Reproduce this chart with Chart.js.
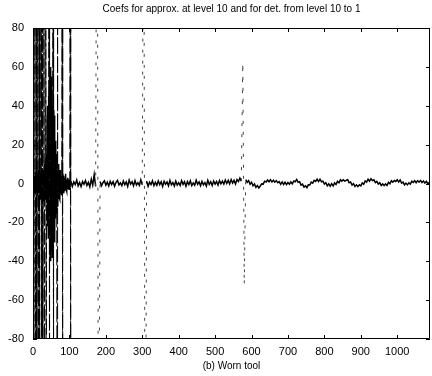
<!DOCTYPE html>
<html>
<head>
<meta charset="utf-8">
<script src="https://cdn.jsdelivr.net/npm/chart.js@4.4.1/dist/chart.umd.min.js"></script>
<style>
html,body{margin:0;padding:0;background:#fff;}
#wrap{width:432px;height:376px;}
</style>
</head>
<body>
<div id="wrap"><canvas id="c" width="432" height="376"></canvas></div>
<script>
// ---- data ----
const titleText = "Coefs for approx. at level 10 and for det. from level 10 to 1";
const xLabelText = "(b) Worn tool";
const yTickValues = [-80, -60, -40, -20, 0, 20, 40, 60, 80];
const xTickValues = [0, 100, 200, 300, 400, 500, 600, 700, 800, 900, 1000];
const xMax = 1090;

// coefficients at index 0..103 (one per index)
const earlyCoefs = [
  3, 260, -240, 4, -5, 230, -210, 6, -4, 200,
  -230, 5, -6, 210, -180, 7, -5, 190, -170, 6,
  -8, 5, 170, -160, 8, -6, 150, -140, 7, -9,
  140, -130, 10, -8, 12, 130, -120, 15, -10, 35,
  -22, 40, -28, 45, 150, -130, 58, -38, 60, -40,
  55, -35, 42, -38, 40, 130, -120, 38, -30, 35,
  -25, 22, -18, 20, -15, 15, -125, 110, -12, 10,
  -8, 9, -7, 6, -8, 7, -5, 4, -6, 4,
  110, -110, 5, -3, 4, -5, 3, -4, 3, -2,
  5, -3, 2, -4, 2, -3, 3, -2, 2, -3,
  2, -2, 120, -100
];
// coefficients from index 104 onward, read every 4 indices
const tailStart = 104, tailStep = 4;
const tailCoefs = [
  1.2, -1.5, 0.8, -0.6, 1.8, -1.2, 0.5, -1.6, 1.0, -0.4,
  1.5, -1.0, 0.6, -1.8, 2.2, -0.8, 4.5, -1.5, 250, -220,
  1.0, -1.2, 0.4, 1.4, -0.9, 0.7, -1.3, 1.1, -0.5, 0.9,
  -1.4, 0.6, 1.6, -0.7, 0.3, -1.1, 1.3, -0.6, 0.8, -1.5,
  1.7, -0.3, 0.9, -1.2, 1.5, -0.8, 0.4, -1.0, 1.9, -0.6,
  200, -210, 1.2, -1.4, 0.7, -0.5, 1.4, -1.1, 0.6, -0.9,
  1.3, -0.6, 0.9, -1.5, 1.1, -0.4, 0.8, -1.2, 1.6, -0.7,
  0.5, -1.3, 1.2, -0.8, 0.4, -1.0, 1.5, -0.5, 0.9, -1.4,
  1.0, -0.6, 1.4, -1.1, 0.3, -0.9, 1.7, -0.4, 0.8, -1.2,
  1.1, -0.7, 0.5, -1.3, 1.6, -0.5, 0.9, -1.0, 1.3, -0.3,
  1.0, -0.8, 1.5, -0.2, 1.2, -0.3, 1.8, 0.0, 1.6, -0.2,
  2.0, 0.2, 1.6, -0.3, 2.0, 1.0, 2.8, 1.2, 62, -52,
  2.0, 0.6, 1.5, -0.4, 0.6, -1.2, -0.2, -2.0, -1.1, -2.3,
  -1.3, -0.2, -0.3, 1.2, 0.8, 1.8, 0.9, 1.9, 0.8, 1.7,
  0.7, 1.5, 0.4, 1.0, -0.4, 0.8, -0.5, 0.7, -0.6, 0.5,
  -0.4, 0.8, -0.2, 1.3, 0.9, 2.1, 0.6, 0.9, -0.8, -0.3,
  -1.8, -1.2, -2.1, -0.7, -0.8, 0.7, 0.2, 1.6, 1.1, 2.2,
  1.0, 2.2, 0.9, 1.2, -0.3, 0.4, -1.2, -0.2, -1.4, -0.1,
  -1.3, 0.3, -0.5, 1.1, 0.4, 1.9, 1.2, 1.9, 1.2, 1.6,
  2.0, 0.4, 0.8, -0.8, -0.1, -1.5, -0.7, -1.6, -0.7, -1.2,
  0.3, -0.4, 1.3, 0.7, 2.2, 1.2, 2.4, 1.5, 1.9, 0.5,
  1.1, -0.3, 0.4, -1.0, -0.2, -1.1, -0.2, -1.0, 0.6, -0.1,
  1.4, 0.7, 1.5, 1.0, 1.9, 0.8, 1.8, 0.2, 0.7, -0.7,
  0.2, -0.7, 0.3, -0.3, 1.2, 0.5, 1.4, 0.4, 1.5, 0.7,
  1.6, 0.5, 1.3, 0.2, 1.1, -0.2, 0.7
];

// ---- build points ----
const points = [];
earlyCoefs.forEach((v, i) => points.push({x: i, y: v}));
tailCoefs.forEach((v, i) => points.push({x: tailStart + i * tailStep, y: v}));

const FONT = "'Liberation Sans', Arial, Helvetica, sans-serif";

const boxPlugin = {
  id: 'boxPlugin',
  afterDraw(chart) {
    const {ctx, chartArea: a, scales: {x, y}} = chart;
    ctx.save();
    ctx.strokeStyle = '#000';
    ctx.lineWidth = 1;
    ctx.beginPath();
    ctx.rect(Math.round(a.left) + 0.5, Math.round(a.top) + 0.5,
             Math.round(a.right - a.left) - 1, Math.round(a.bottom - a.top) - 1);
    ctx.stroke();
    const L = 4;
    ctx.beginPath();
    x.ticks.forEach(t => {
      const px = Math.round(x.getPixelForValue(t.value)) + 0.5;
      ctx.moveTo(px, a.bottom); ctx.lineTo(px, a.bottom - L);
      ctx.moveTo(px, a.top); ctx.lineTo(px, a.top + L);
    });
    y.ticks.forEach(t => {
      const py = Math.round(y.getPixelForValue(t.value)) + 0.5;
      ctx.moveTo(a.left, py); ctx.lineTo(a.left + L, py);
      ctx.moveTo(a.right, py); ctx.lineTo(a.right - L, py);
    });
    ctx.stroke();
    ctx.restore();
  }
};

const spikeMag = c => Math.max(Math.abs(c.p0.parsed.y), Math.abs(c.p1.parsed.y));
const isTailSpike = c => c.p0.parsed.x > 150 && spikeMag(c) > 20;
const isEarlySpike = c => c.p0.parsed.x <= 150 && spikeMag(c) > 80;

new Chart(document.getElementById('c'), {
  type: 'line',
  data: {
    datasets: [{
      data: points,
      borderColor: '#000',
      borderWidth: 1.5,
      pointRadius: 0,
      tension: 0,
      segment: {
        borderDash: c => isTailSpike(c) ? [3, 8] : (isEarlySpike(c) ? [16, 3] : undefined),
        borderWidth: c => (isTailSpike(c) || isEarlySpike(c)) ? 1 : undefined,
        borderColor: c => isTailSpike(c) ? '#444' : undefined
      }
    }]
  },
  options: {
    responsive: false,
    animation: false,
    layout: {padding: {left: 0, right: 2, top: 0, bottom: 0}},
    plugins: {
      legend: {display: false},
      tooltip: {enabled: false},
      title: {
        display: true,
        text: titleText,
        fullSize: false,
        color: '#000',
        font: {family: FONT, size: 10, weight: 'normal'},
        padding: {top: 3, bottom: 13}
      }
    },
    scales: {
      x: {
        type: 'linear',
        min: 0, max: xMax,
        afterBuildTicks: s => { s.ticks = xTickValues.map(v => ({value: v})); },
        ticks: {
          color: '#000', padding: 6, maxRotation: 0, autoSkip: false,
          font: {family: FONT, size: 11},
          callback: v => String(v)
        },
        grid: {display: false, drawTicks: false},
        border: {display: false},
        title: {
          display: true, text: xLabelText, color: '#000',
          font: {family: FONT, size: 10}, padding: {top: 2, bottom: 4}
        },
        afterFit: s => { s.height = 37; }
      },
      y: {
        type: 'linear',
        min: -80, max: 80,
        afterBuildTicks: s => { s.ticks = yTickValues.map(v => ({value: v})); },
        ticks: {
          color: '#000', padding: 9, autoSkip: false,
          font: {family: FONT, size: 11},
          callback: v => String(v)
        },
        grid: {display: false, drawTicks: false},
        border: {display: false},
        afterFit: s => { s.width = 33; }
      }
    }
  },
  plugins: [boxPlugin]
});
</script>
</body>
</html>
